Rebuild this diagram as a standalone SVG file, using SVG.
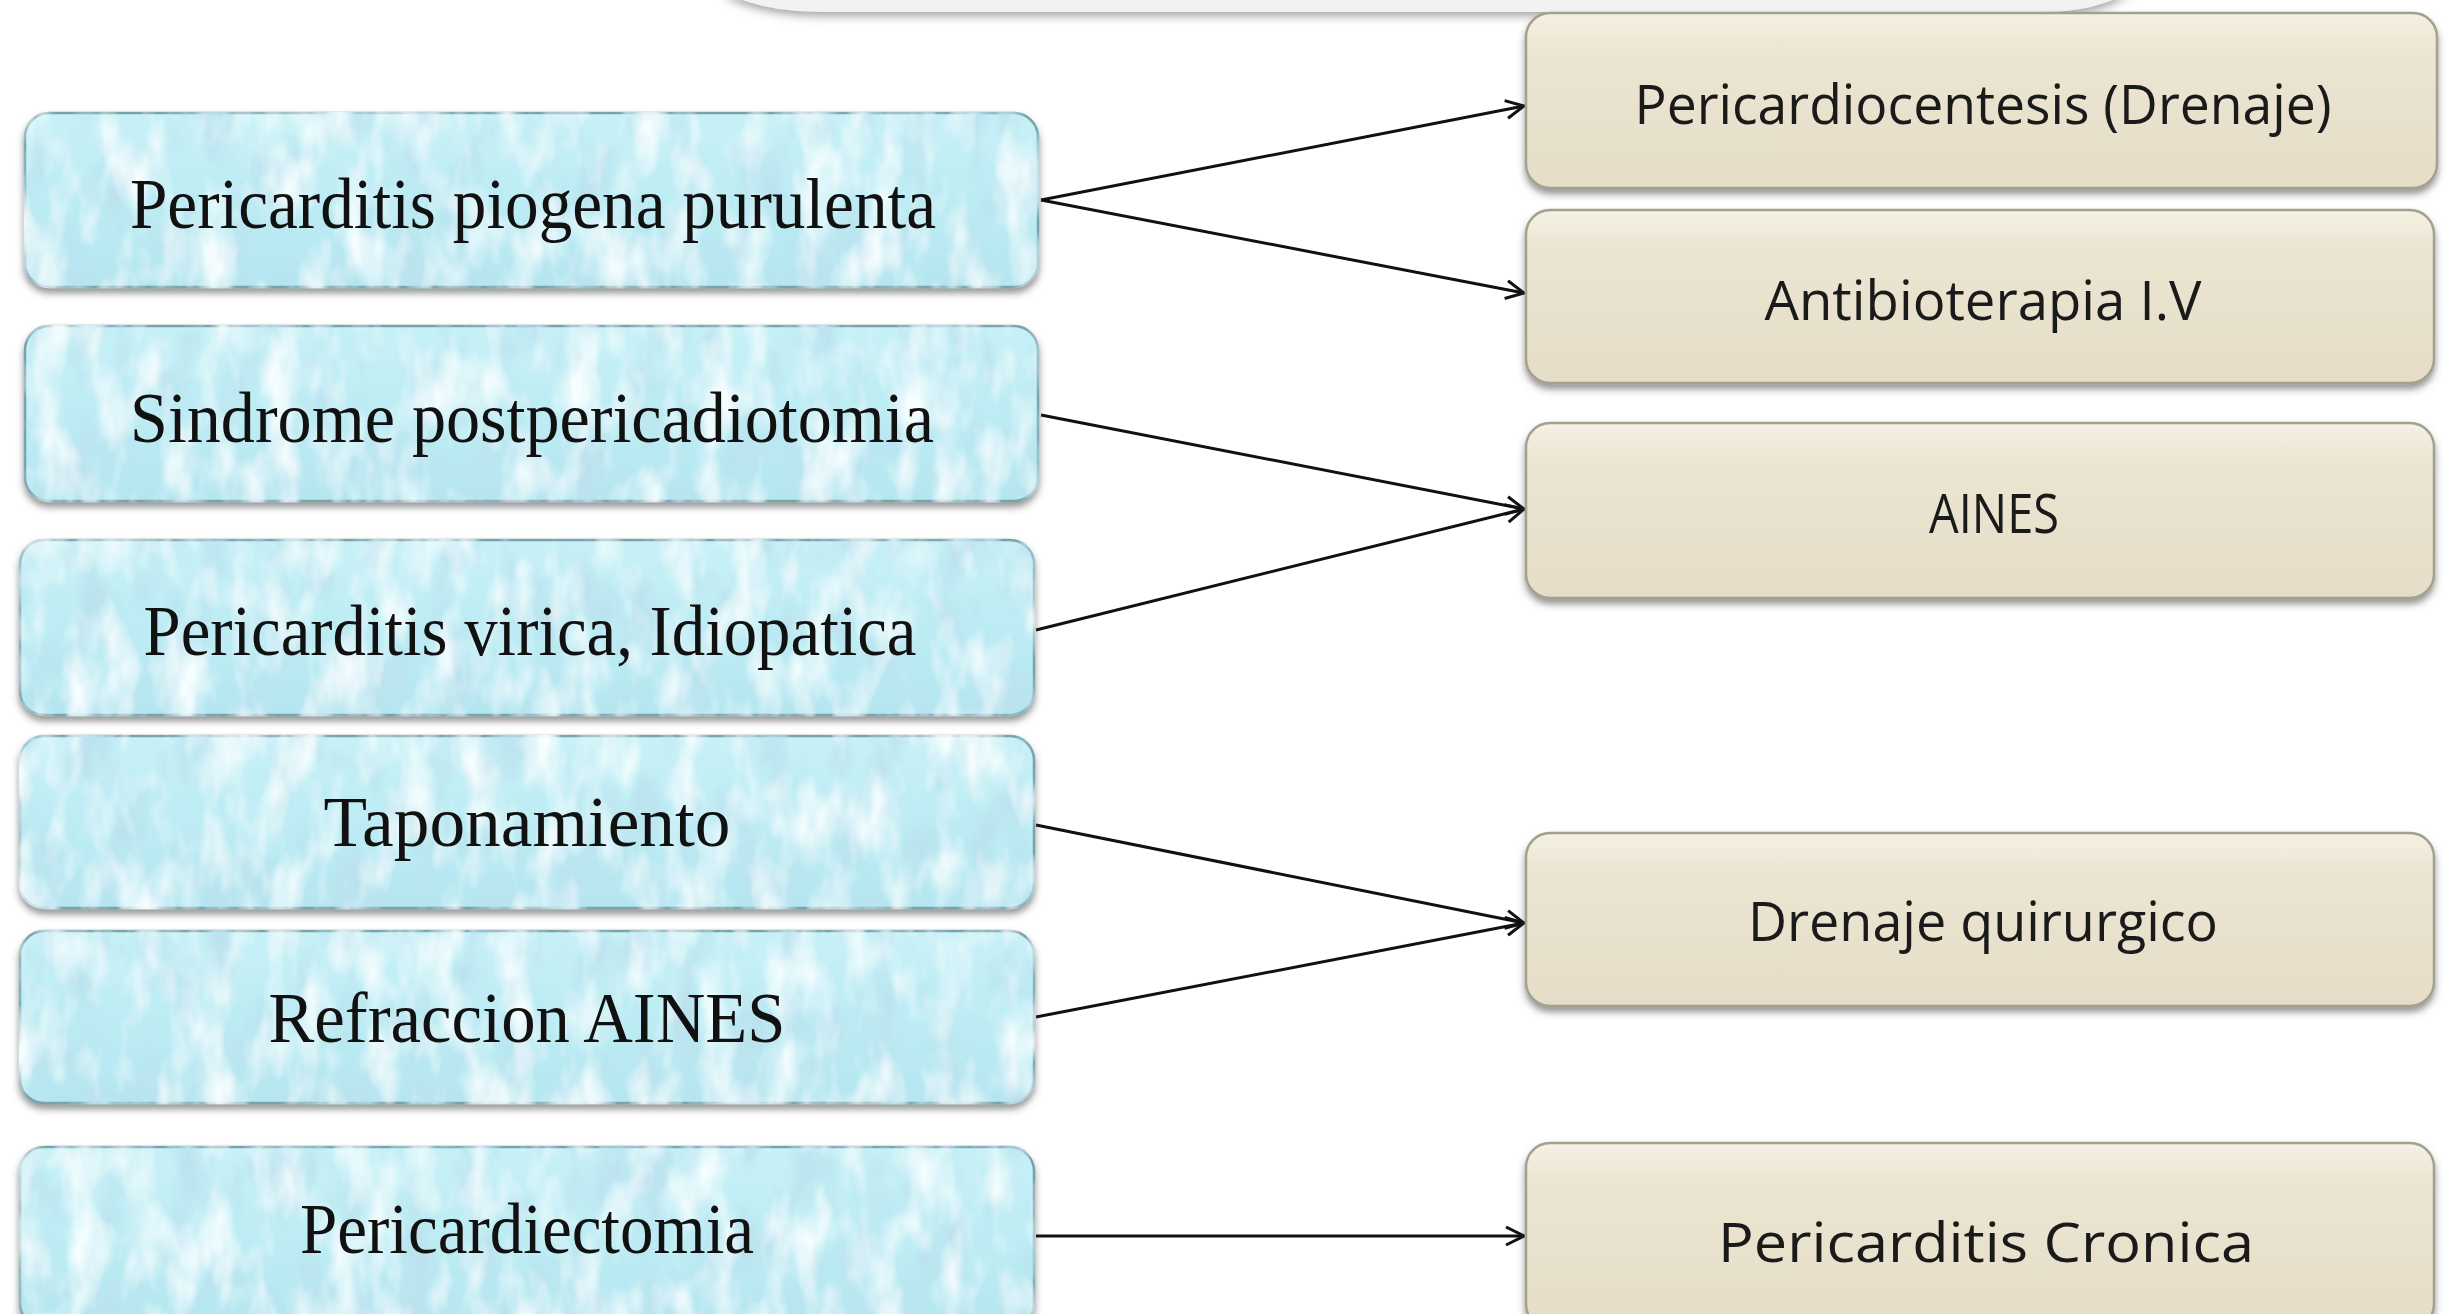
<svg xmlns="http://www.w3.org/2000/svg" width="2454" height="1314" viewBox="0 0 2454 1314">
  <style>
    .blue { fill: url(#blueGrad); stroke: #78a3ad; stroke-width: 2.5; filter: url(#waterTex); }
    .beige { fill: url(#beigeGrad); stroke: #a3a08e; stroke-width: 2.5; filter: url(#shadow); }
    .ltxt { font-family: "Liberation Serif", "DejaVu Serif", serif; font-size: 72px; fill: #111; text-anchor: middle; }
    .rtxt { font-family: "Open Sans", "Liberation Sans", sans-serif; font-size: 54px; fill: #1a1a1a; text-anchor: middle; }
    .conn { stroke: #111; stroke-width: 3; fill: none; marker-end: url(#arrow); }
  </style>
  <defs>
    <filter id="shadow" x="-5%" y="-10%" width="110%" height="130%">
      <feDropShadow dx="0" dy="5" stdDeviation="3.5" flood-color="#404040" flood-opacity="0.55"/>
    </filter>
    <filter id="waterTex" x="-3%" y="-8%" width="106%" height="125%">
      <feGaussianBlur in="SourceAlpha" stdDeviation="3.5" result="blur"/>
      <feOffset in="blur" dy="5" result="off"/>
      <feFlood flood-color="#404040" flood-opacity="0.55"/>
      <feComposite in2="off" operator="in" result="shadowOut"/>
      <feTurbulence type="fractalNoise" baseFrequency="0.03 0.014" numOctaves="3" seed="11" result="noise"/>
      <feColorMatrix in="noise" type="matrix" values="0 0 0 0 0.50  0 0 0 0 0.76  0 0 0 0 0.86  -2.8 0 0 0 1.5" result="darkN"/>
      <feComposite in="darkN" in2="SourceAlpha" operator="in" result="dark"/>
      <feColorMatrix in="noise" type="matrix" values="0 0 0 0 0.93  0 0 0 0 0.99  0 0 0 0 1  0 2.4 0 0 -1.05" result="lightN"/>
      <feComposite in="lightN" in2="SourceAlpha" operator="in" result="light"/>
      <feMerge>
        <feMergeNode in="shadowOut"/>
        <feMergeNode in="SourceGraphic"/>
        <feMergeNode in="dark"/>
        <feMergeNode in="light"/>
      </feMerge>
    </filter>
    <filter id="bannerShadow" x="-5%" y="-50%" width="110%" height="250%">
      <feDropShadow dx="0" dy="4" stdDeviation="5" flood-color="#666" flood-opacity="0.6"/>
    </filter>
    <linearGradient id="beigeGrad" x1="0" y1="0" x2="0" y2="1">
      <stop offset="0" stop-color="#f5f1e3"/>
      <stop offset="0.22" stop-color="#ebe5d2"/>
      <stop offset="1" stop-color="#e5ddc7"/>
    </linearGradient>
    <linearGradient id="blueGrad" x1="0" y1="0" x2="0" y2="1">
      <stop offset="0" stop-color="#c8f1f7"/>
      <stop offset="0.5" stop-color="#bdecf4"/>
      <stop offset="1" stop-color="#b5e6f0"/>
    </linearGradient>
    <marker id="arrow" viewBox="0 0 14 14" refX="13" refY="7" markerWidth="7" markerHeight="7" markerUnits="strokeWidth" orient="auto">
      <path d="M1 1 L13 7 L1 13" fill="none" stroke="#111" stroke-width="2"/>
    </marker>
  </defs>

  <rect width="2454" height="1314" fill="#ffffff"/>

  <!-- top banner edge -->
  <path d="M720 -10 Q760 12 820 12 L2040 12 Q2100 12 2130 -10 Z" fill="#f2f2f2" filter="url(#bannerShadow)"/>

  <g id="connectors">
    <line class="conn" x1="1041" y1="200" x2="1524" y2="106"/>
    <line class="conn" x1="1041" y1="200" x2="1524" y2="293"/>
    <line class="conn" x1="1041" y1="415" x2="1524" y2="509"/>
    <line class="conn" x1="1036" y1="630" x2="1524" y2="509"/>
    <line class="conn" x1="1036" y1="825" x2="1524" y2="923"/>
    <line class="conn" x1="1036" y1="1017" x2="1524" y2="923"/>
    <line class="conn" x1="1036" y1="1236" x2="1524" y2="1236"/>
  </g>

  <g id="n_piogena">
    <rect class="blue" x="25" y="113" width="1013" height="174" rx="24"/>
    <text class="ltxt" x="533" y="228" textLength="806" lengthAdjust="spacingAndGlyphs">Pericarditis piogena purulenta</text>
  </g>
  <g id="n_sindrome">
    <rect class="blue" x="25" y="326" width="1013" height="175" rx="24"/>
    <text class="ltxt" x="532" y="442" textLength="804" lengthAdjust="spacingAndGlyphs">Sindrome postpericadiotomia</text>
  </g>
  <g id="n_virica">
    <rect class="blue" x="20" y="540" width="1014" height="175" rx="24"/>
    <text class="ltxt" x="530" y="655" textLength="773" lengthAdjust="spacingAndGlyphs">Pericarditis virica, Idiopatica</text>
  </g>
  <g id="n_taponamiento">
    <rect class="blue" x="20" y="736" width="1014" height="172" rx="24"/>
    <text class="ltxt" x="527" y="846" textLength="407" lengthAdjust="spacingAndGlyphs">Taponamiento</text>
  </g>
  <g id="n_refraccion">
    <rect class="blue" x="20" y="931" width="1014" height="172" rx="24"/>
    <text class="ltxt" x="527" y="1042" textLength="517" lengthAdjust="spacingAndGlyphs">Refraccion AINES</text>
  </g>
  <g id="n_pericardiectomia">
    <rect class="blue" x="20" y="1147" width="1014" height="180" rx="24"/>
    <text class="ltxt" x="527" y="1253" textLength="454" lengthAdjust="spacingAndGlyphs">Pericardiectomia</text>
  </g>

  <g id="n_pericardiocentesis">
    <rect class="beige" x="1526" y="13" width="911" height="175" rx="24"/>
    <text class="rtxt" x="1983" y="124" textLength="697" lengthAdjust="spacingAndGlyphs">Pericardiocentesis (Drenaje)</text>
  </g>
  <g id="n_antibioterapia">
    <rect class="beige" x="1526" y="210" width="908" height="173" rx="24"/>
    <text class="rtxt" x="1983" y="320" textLength="437" lengthAdjust="spacingAndGlyphs">Antibioterapia I.V</text>
  </g>
  <g id="n_aines">
    <rect class="beige" x="1526" y="423" width="908" height="175" rx="24"/>
    <text class="rtxt" x="1994" y="533" font-size="50" textLength="130" lengthAdjust="spacingAndGlyphs">AINES</text>
  </g>
  <g id="n_drenaje">
    <rect class="beige" x="1526" y="833" width="908" height="173" rx="24"/>
    <text class="rtxt" x="1983" y="941" textLength="470" lengthAdjust="spacingAndGlyphs">Drenaje quirurgico</text>
  </g>
  <g id="n_cronica">
    <rect class="beige" x="1526" y="1143" width="908" height="185" rx="24"/>
    <text class="rtxt" x="1986" y="1262" font-size="62" textLength="536" lengthAdjust="spacingAndGlyphs">Pericarditis Cronica</text>
  </g>
</svg>
